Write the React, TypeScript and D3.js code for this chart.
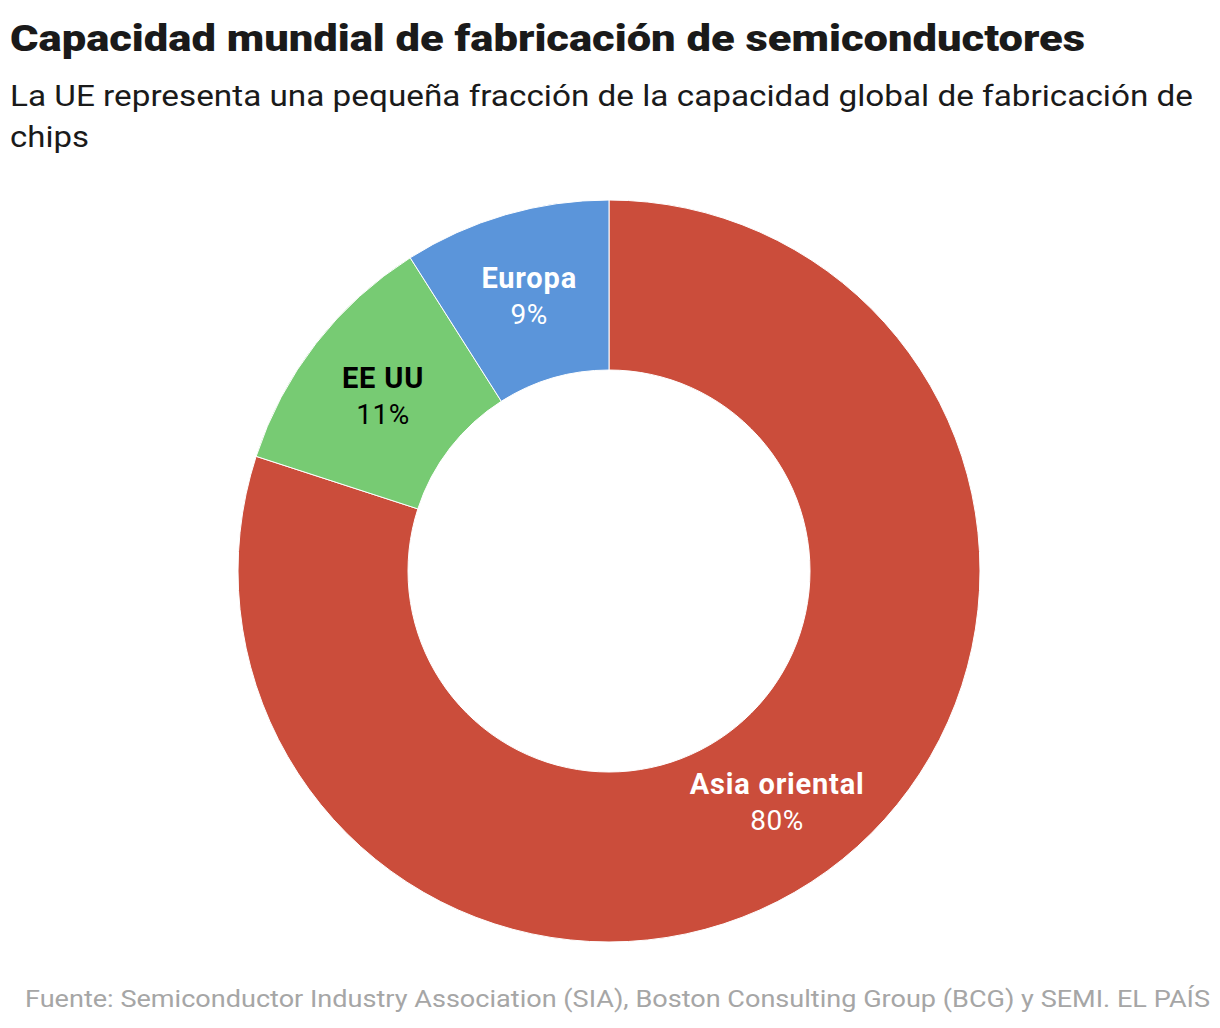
import React from "react";
import * as d3 from "d3";

const categories = ["Asia oriental", "EE UU", "Europa"];
const values = [80, 11, 9];
const colors = ["#CB4D3B", "#77CB73", "#5B95DA"];
const labelColors = ["#ffffff", "#000000", "#ffffff"];

const W = 1220;
const H = 1028;
const cx = 609;
const cy = 571;
const outerR = 371;
const innerR = 201;

export default function App() {
  const pie = d3.pie<number>().sort(null).value((d) => d);
  const arcs = pie(values);
  const arc = d3.arc<d3.PieArcDatum<number>>().innerRadius(innerR).outerRadius(outerR);
  const font = "'Roboto', 'Liberation Sans', sans-serif";
  return (
    <svg width={W} height={H} style={{ position: "absolute", left: 0, top: 0 }}>
      <text x={10} y={51} fontFamily={font} fontWeight={900} fontSize={37} fill="#1a1a1a"
        textLength={1075} lengthAdjust="spacingAndGlyphs">
        Capacidad mundial de fabricación de semiconductores
      </text>
      <text x={10} y={106} fontFamily={font} fontSize={29} fill="#1a1a1a"
        textLength={1183} lengthAdjust="spacingAndGlyphs">
        La UE representa una pequeña fracción de la capacidad global de fabricación de
      </text>
      <text x={10} y={147} fontFamily={font} fontSize={29} fill="#1a1a1a"
        textLength={79} lengthAdjust="spacingAndGlyphs">
        chips
      </text>
      <g transform={`translate(${cx},${cy})`}>
        {arcs.map((a, i) => (
          <path key={i} d={arc(a) || ""} fill={colors[i]} stroke="#ffffff" strokeWidth={1} />
        ))}
        {arcs.map((a, i) => {
          const [x, y] = arc.centroid(a);
          return (
            <g key={"l" + i} transform={`translate(${x},${y})`} fill={labelColors[i]} fontFamily={font} textAnchor="middle">
              <text y={-8} fontSize={29} fontWeight={700} letterSpacing={0.8}>{categories[i]}</text>
              <text y={28} fontSize={28} letterSpacing={0.5}>{values[i]}%</text>
            </g>
          );
        })}
      </g>
      <text x={1210} y={1007} textAnchor="end" fontFamily={font} fontSize={23} fill="#a6a6a6"
        textLength={1185} lengthAdjust="spacingAndGlyphs">
        Fuente: Semiconductor Industry Association (SIA), Boston Consulting Group (BCG) y SEMI. EL PAÍS
      </text>
    </svg>
  );
}
